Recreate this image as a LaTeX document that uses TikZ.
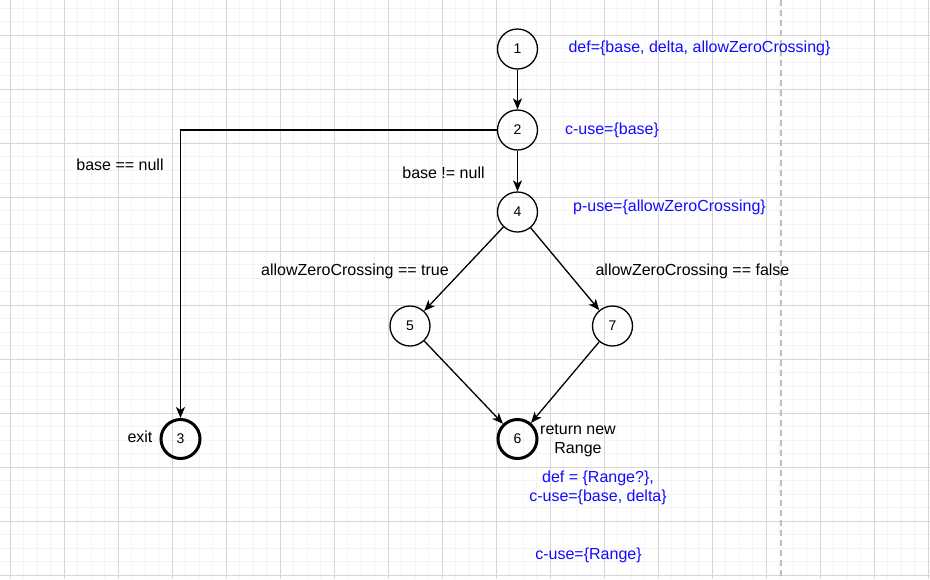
\documentclass[tikz,border=0pt]{standalone}
\usepackage{fontspec}
\setmainfont{Liberation Sans}
\usetikzlibrary{arrows.meta}
\definecolor{gridminor}{RGB}{244,244,244}
\definecolor{gridmajor}{RGB}{214,214,214}
\definecolor{pagebreak}{RGB}{192,192,192}
\definecolor{annot}{RGB}{20,10,255}
\begin{document}
\begin{tikzpicture}[x=1pt,y=-1pt,
  minorline/.style={draw=gridminor,line width=0.9pt},
  majorline/.style={draw=gridmajor,line width=0.9pt},
  state/.style={circle,draw=black,line width=1.3pt,minimum size=40pt,inner sep=0pt,
    font=\fontsize{14}{16}\selectfont},
  final/.style={state,line width=3pt,minimum size=39pt},
  cond/.style={font=\fontsize{16}{19}\selectfont,text=black,inner sep=0pt,align=center},
  note/.style={font=\fontsize{16}{19}\selectfont,text=annot,inner sep=0pt,align=center},
  flow/.style={draw=black,line width=1.3pt,-{Stealth[length=11pt,width=9pt,inset=3pt]}}]
\useasboundingbox (0,0) rectangle (930,579);
\fill[white] (0,0) rectangle (930,579);

% background grid
\foreach \i in {0,...,69} \draw[minorline] ({-3.5+13.5*\i},0) -- ++(0,579);
\foreach \i in {0,...,43} \draw[minorline] (0,{-5.5+13.5*\i}) -- ++(930,0);
\foreach \i in {0,...,17} \draw[majorline] ({10+54*\i},0) -- ++(0,579);
\foreach \i in {0,...,10} \draw[majorline] (0,{35+54*\i}) -- ++(930,0);
\draw[pagebreak,line width=1.3pt,dash pattern=on 6pt off 4pt] (781,0) -- (781,579);

% states
\node[state] (n1) at (517.5,49) {1};
\node[state] (n2) at (517.5,130) {2};
\node[state] (n4) at (517.5,212) {4};
\node[state] (n5) at (410,326) {5};
\node[state] (n7) at (612.5,326) {7};
\node[final] (n6) at (517.5,439) {6};
\node[final] (n3) at (180.5,439) {3};

% transitions
\draw[flow] (n1) -- (n2);
\draw[flow] (n2) -- (n4);
\draw[flow] (n2.west) -| (n3.north);
\draw[flow] (n4) -- (n5);
\draw[flow] (n4) -- (n7);
\draw[flow] (n5) -- (n6);
\draw[flow] (n7) -- (n6);

% branch conditions and node captions
\node[cond] (lnull) at (120,165) {base == null};
\node[cond] (lnotnull) at (443.5,173) {base != null};
\node[cond] (ltrue) at (355,271) {allowZeroCrossing == true};
\node[cond] (lfalse) at (692.5,271) {allowZeroCrossing == false};
\node[cond] (lexit) at (140,437) {exit};
\node[cond] (lret) at (578,440) {return new\\Range};

% def/use annotations
\node[note] (a1) at (699.5,48) {def=\{base, delta, allowZeroCrossing\}};
\node[note] (a2) at (612,130) {c-use=\{base\}};
\node[note] (a4) at (669.5,207) {p-use=\{allowZeroCrossing\}};
\node[note] (a6) at (598,488) {def = \{Range?\},\\c-use=\{base, delta\}};
\node[note] (a6b) at (588.5,555) {c-use=\{Range\}};
\end{tikzpicture}
\end{document}
